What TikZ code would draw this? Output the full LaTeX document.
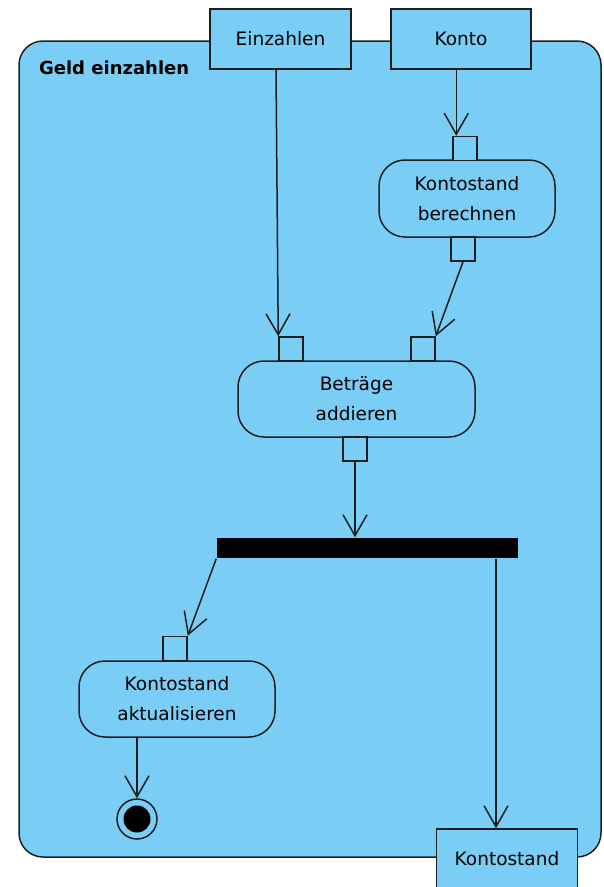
\documentclass[tikz,border=0pt]{standalone}
\usepackage{fontspec}
\setmainfont{DejaVu Sans}
\usetikzlibrary{arrows.meta,calc}
\definecolor{umlblue}{RGB}{122,206,245}
\definecolor{umlline}{RGB}{30,30,30}
\begin{document}
\begin{tikzpicture}[x=1pt,y=-1pt,line width=1.5pt,
  lbl/.style={font=\fontsize{18.5}{30}\selectfont},
  frame/.style={draw=umlline,fill=umlblue,rounded corners=24pt,inner sep=0pt,minimum width=582pt,minimum height=816pt},
  objbox/.style={draw=umlline,fill=umlblue,inner sep=0pt,minimum width=141pt,minimum height=60pt,lbl},
  act/.style={draw=umlline,fill=umlblue,rounded corners=26pt,inner sep=0pt,align=center,minimum height=76pt,lbl},
  pinbox/.style={draw=umlline,fill=umlblue,inner sep=0pt,minimum size=24pt},
  barbox/.style={fill=black,inner sep=0pt,minimum width=301pt,minimum height=20pt},
  flow/.style={draw=umlline,-{Straight Barb[length=21pt,width=24pt]}}]
\useasboundingbox (0,0) rectangle (603,887);
% frame
\node[frame] (fr) at (310,449) {};
\node[anchor=base west,font=\bfseries\fontsize{18}{22}\selectfont] (title) at (35,74) {Geld einzahlen};
% parameter boxes
\node[objbox] (ein) at (280.5,39) {Einzahlen};
\node[objbox,minimum width=140pt] (konto) at (461,39) {Konto};
\node[objbox] (kout) at (507,859) {Kontostand};
% actions
\node[act,minimum width=176pt,minimum height=77pt] (ber) at (467,198.5) {Kontostand\\berechnen};
\node[act,minimum width=237pt] (add) at (356.5,399) {Beträge\\addieren};
\node[act,minimum width=196pt] (akt) at (177,699) {Kontostand\\aktualisieren};
% pins
\node[pinbox] (berin) at (465,148.5) {};
\node[pinbox] (berout) at (463,249) {};
\node[pinbox] (addl) at (291,349) {};
\node[pinbox] (addr) at (423,349) {};
\node[pinbox] (addout) at (355,449) {};
\node[pinbox] (aktin) at (175,648.5) {};
% fork bar
\node[barbox] (bar) at (367.5,548) {};
% final node
\node[circle,draw=umlline,fill=umlblue,minimum size=40pt,inner sep=0pt] (fin) at (137,819) {};
\node[circle,fill=black,minimum size=27pt,inner sep=0pt] (fincore) at (fin.center) {};
% flows
\draw[flow] ([xshift=-4.5pt]ein.south) -- (addl.north west);
\draw[flow] (konto.south -| {$(berin.north west)+(4,0)$}) -- ($(berin.north west)+(4,0)$);
\draw[flow] (berout.south) -- (addr.north east);
\draw[flow] (addout.south) -- (addout.south |- bar.north);
\draw[flow] (bar.south west) -- (aktin.north east);
\draw[flow] ([xshift=-11pt]kout.north |- bar.south) -- ([xshift=-11pt]kout.north);
\draw[flow] (akt.south -| fin.north) -- (fin.north);
\end{tikzpicture}
\end{document}
